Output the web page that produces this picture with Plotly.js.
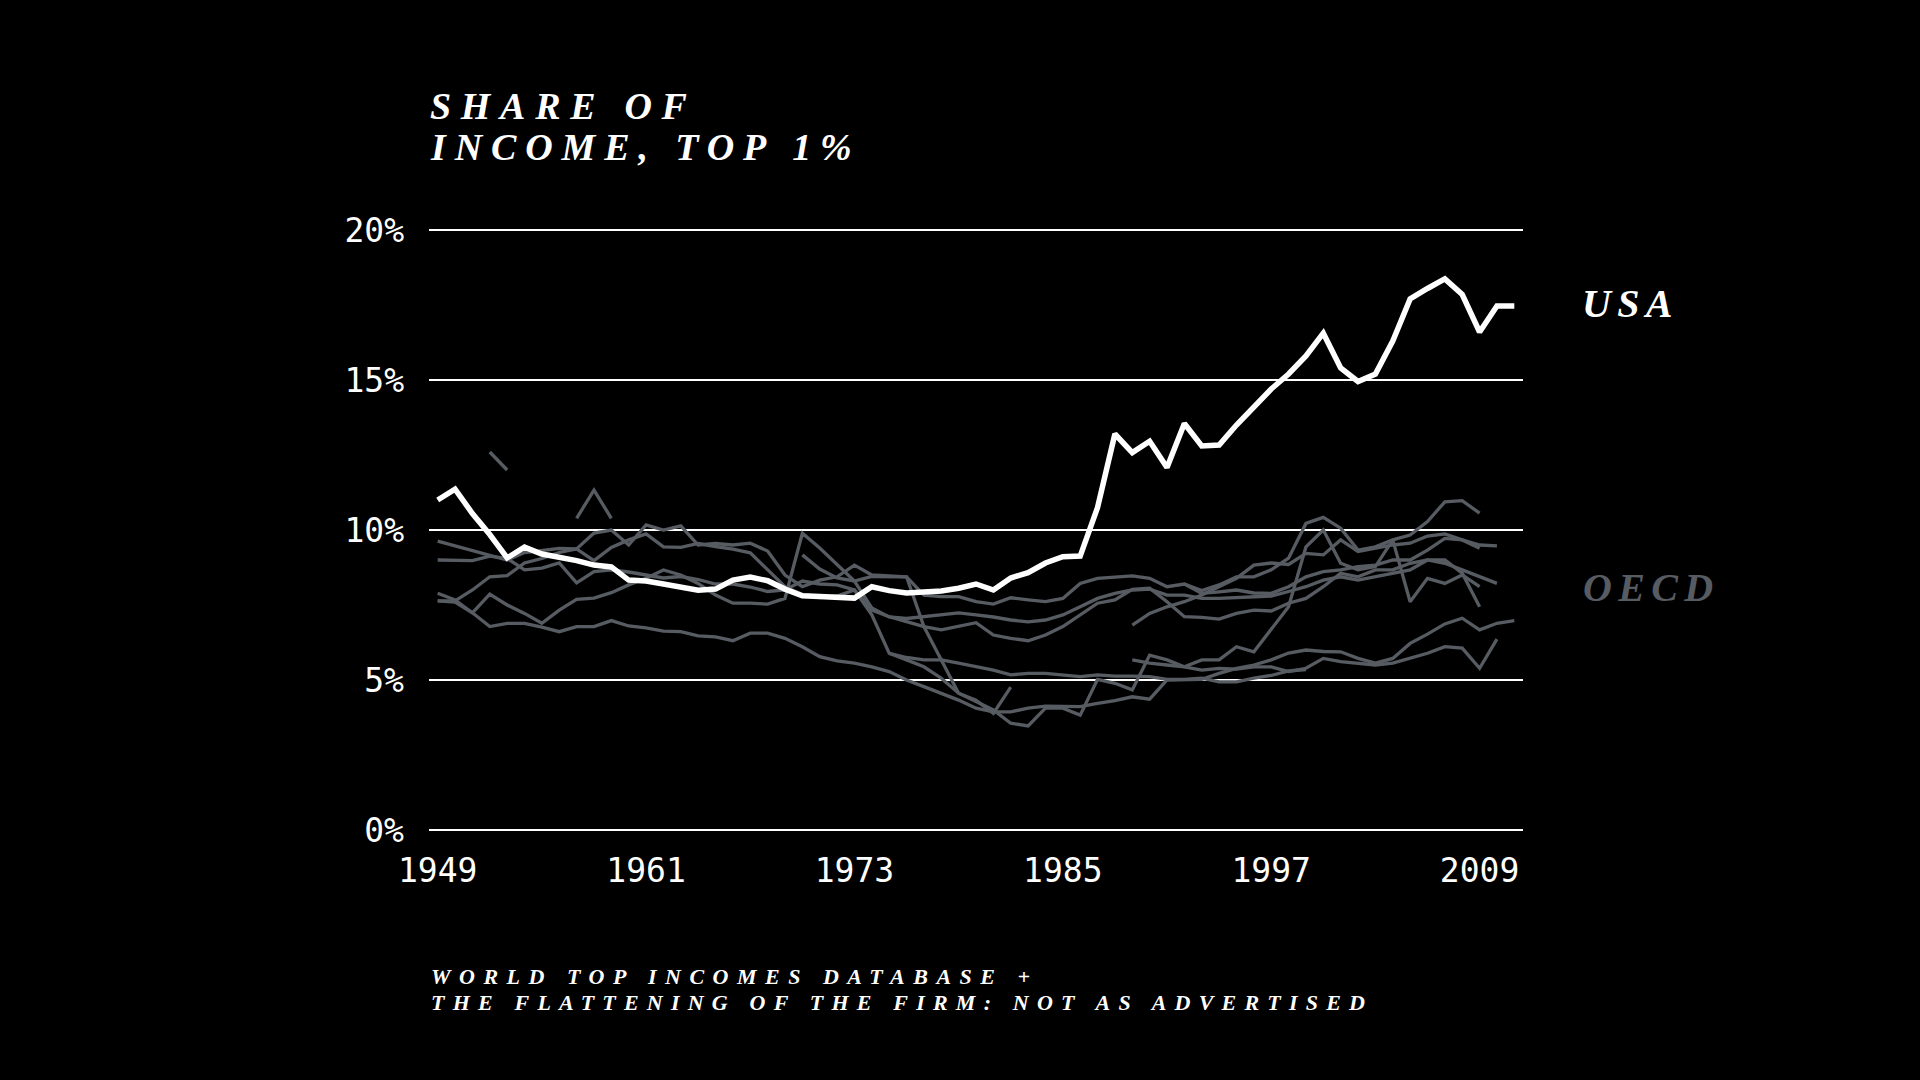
<!DOCTYPE html>
<html>
<head>
<meta charset="utf-8">
<script src="https://cdn.plot.ly/plotly-3.0.1.min.js"></script>
<style>
  html, body { margin: 0; padding: 0; background: #000; }
  #chart { width: 1920px; height: 1080px; }
</style>
</head>
<body>
<div id="chart"></div>
<script>
// ---- data (share of income, top 1%, %) ----
const years = [1949,1950,1951,1952,1953,1954,1955,1956,1957,1958,
               1959,1960,1961,1962,1963,1964,1965,1966,1967,1968,
               1969,1970,1971,1972,1973,1974,1975,1976,1977,1978,
               1979,1980,1981,1982,1983,1984,1985,1986,1987,1988,
               1989,1990,1991,1992,1993,1994,1995,1996,1997,1998,
               1999,2000,2001,2002,2003,2004,2005,2006,2007,2008,
               2009,2010,2011];

const usa = [11.0,11.36,10.55,9.85,9.07,9.43,9.2,9.1,8.98,8.83,
             8.77,8.33,8.3,8.2,8.1,7.99,8.03,8.33,8.43,8.31,
             8.03,7.81,7.78,7.76,7.73,8.11,7.98,7.9,7.92,7.97,
             8.06,8.2,8.0,8.4,8.58,8.9,9.11,9.13,10.75,13.2,
             12.58,12.96,12.08,13.55,12.8,12.83,13.5,14.07,14.7,15.2,
             15.8,16.56,15.4,14.95,15.2,16.3,17.7,18.05,18.37,17.85,
             16.6,17.47,17.47];

const oecd1 = [9.63,9.47,9.3,9.15,9.0,9.25,9.33,9.39,9.37,9.9,
               10.0,9.5,10.17,10.0,10.14,9.5,9.55,9.5,9.56,9.3,
               8.5,8.11,8.33,8.44,8.83,8.5,8.47,8.44,7.83,7.78,
               7.78,7.61,7.53,7.74,7.67,7.61,7.72,8.22,8.39,8.44,
               8.47,8.39,8.11,8.2,7.89,7.94,8.0,7.9,7.89,8.11,
               8.44,8.61,8.67,8.78,8.83,9.0,9.0,9.33,9.72,9.67,
               9.39,null,null];

const oecd2 = [9.0,8.98,8.98,9.13,9.05,8.67,8.73,8.9,8.24,8.61,
               8.67,8.6,8.5,8.4,8.45,8.35,8.2,8.2,8.1,7.95,
               8.0,8.3,8.2,8.17,8.0,7.33,7.11,6.94,6.78,6.67,
               6.78,6.91,6.5,6.39,6.31,6.5,6.78,7.17,7.56,7.67,
               8.02,8.06,7.61,7.11,7.09,7.03,7.22,7.33,7.3,7.56,
               7.72,8.11,8.56,8.44,8.67,8.67,8.89,9.0,8.89,8.67,
               8.44,8.22,null];

const oecd3 = [7.64,7.64,8.0,8.44,8.48,8.9,9.05,9.25,9.37,8.98,
               9.42,9.67,9.87,9.44,9.42,9.55,9.45,9.36,9.24,8.67,
               8.11,7.85,7.75,7.8,8.0,7.17,5.89,5.67,5.44,5.06,
               4.56,4.28,4.0,3.56,3.47,4.06,4.06,3.83,5.02,4.89,
               4.67,5.83,5.67,5.44,5.67,5.67,6.11,5.94,6.67,7.44,
               9.44,10.0,8.89,8.67,8.78,9.67,7.61,8.39,8.22,8.5,
               8.11,null,null];

const oecd4 = [null,null,null,null,null,null,null,null,null,null,
               null,null,null,null,null,null,null,null,null,null,
               null,null,null,null,null,null,null,null,null,null,
               null,null,null,null,null,null,null,null,null,null,
               6.83,7.22,7.44,7.61,7.83,8.11,8.39,8.83,8.9,8.85,
               9.22,9.17,9.67,9.28,9.39,9.5,9.56,9.8,9.87,9.67,
               9.5,9.47,null];

const oecd5 = [7.89,7.67,7.24,7.86,7.5,7.22,6.89,7.33,7.69,7.73,
               7.91,8.17,8.39,8.67,8.5,8.22,7.83,7.56,7.56,7.53,
               7.72,9.89,9.4,8.85,8.3,7.4,7.1,7.05,7.12,7.17,
               7.24,7.17,7.1,7.0,6.94,7.0,7.17,7.44,7.72,7.89,
               8.0,8.03,7.83,7.83,7.72,7.72,7.75,7.78,7.8,7.95,
               8.11,8.33,8.44,8.33,8.44,8.56,8.67,9.0,9.0,8.56,
               7.44,null,null];

const oecd6 = [7.64,7.6,7.24,6.78,6.89,6.89,6.76,6.61,6.78,6.78,
               6.98,6.8,6.74,6.63,6.61,6.47,6.44,6.31,6.56,6.56,
               6.39,6.11,5.78,5.64,5.56,5.44,5.28,5.0,4.78,4.56,
               4.33,4.06,3.94,3.94,4.06,4.13,4.11,4.11,4.22,4.31,
               4.44,4.36,5.0,5.02,5.02,5.22,5.39,5.5,5.67,5.9,
               6.0,5.95,5.94,5.72,5.56,5.72,6.22,6.53,6.87,7.06,
               6.67,6.89,6.98];

const oecd7 = [null,null,null,null,null,null,null,null,null,null,
               null,null,null,null,null,null,null,null,null,null,
               null,9.17,8.7,8.4,8.3,8.45,8.45,8.44,6.78,5.67,
               4.56,4.33,3.89,4.76,null,null,null,null,null,null,
               null,null,null,null,null,null,null,null,null,null,
               null,null,null,null,null,null,null,null,null,null,
               null,null,null];

const oecd8 = [null,null,null,null,null,null,null,null,null,null,
               null,null,null,null,null,null,null,null,null,null,
               null,null,null,null,null,null,null,null,null,null,
               null,null,null,null,null,null,null,null,null,null,
               null,null,null,8.2,7.98,8.17,8.44,8.44,8.67,9.06,
               10.22,10.42,10.06,9.33,9.44,9.67,9.83,10.28,10.94,10.98,
               10.56,null,null];

const oecd9 = [null,null,null,12.6,12.0,null,null,null,null,null,
               null,null,null,null,null,null,null,null,null,null,
               null,null,null,null,null,null,null,null,null,null,
               null,null,null,null,null,null,null,null,null,null,
               null,null,null,null,null,null,null,null,null,null,
               null,null,null,null,null,null,null,null,null,null,
               null,null,null];

const oecd10 = [null,null,null,null,null,null,null,null,10.39,11.33,
                10.39,null,null,null,null,null,null,null,null,null,
                null,null,null,null,null,null,null,null,null,null,
                null,null,null,null,null,null,null,null,null,null,
                null,null,null,null,null,null,null,null,null,null,
                null,null,null,null,null,null,null,null,null,null,
                null,null,null];

const oecd11 = [null,null,null,null,null,null,null,null,null,null,
                null,null,null,null,null,null,null,null,null,null,
                null,null,null,null,null,null,null,null,null,null,
                null,null,null,null,null,null,null,null,null,null,
                5.67,5.56,5.5,5.44,5.33,5.39,5.36,5.44,5.44,5.28,
                5.39,5.72,5.61,5.56,5.5,5.56,5.72,5.89,6.11,6.06,
                5.39,6.36,null];

const oecd12 = [null,null,null,null,null,null,null,null,null,null,
                null,null,null,null,null,null,null,null,null,null,
                null,null,null,null,null,null,5.89,5.75,5.67,5.67,
                5.56,5.44,5.33,5.17,5.22,5.22,5.17,5.11,5.17,5.13,
                5.13,5.11,5.02,5.02,5.06,4.94,4.94,5.06,5.15,5.3,
                5.35,null,null,null,null,null,null,null,null,null,
                null,null,null];

const oecdSeries = [oecd1,oecd2,oecd3,oecd4,oecd5,oecd6,oecd7,oecd8,oecd9,oecd10,oecd11,oecd12];

const xTicks = [1949,1961,1973,1985,1997,2009];
const yTicks = [0,5,10,15,20];
const yTickText = ['0%','5%','10%','15%','20%'];

const titleLines = ['SHARE OF','INCOME, TOP 1%'];
const sourceLines = ['WORLD TOP INCOMES DATABASE +','THE FLATTENING OF THE FIRM: NOT AS ADVERTISED'];

// ---- styling ----
const GRAY = '#575b62';
const serif = {family: 'Liberation Serif, DejaVu Serif, serif', weight: 'bold', style: 'italic'};
const mono = {family: 'DejaVu Sans Mono, Liberation Mono, monospace', size: 33, color: '#ffffff'};

const traces = oecdSeries.map(s => ({
  x: years, y: s, type: 'scatter', mode: 'lines',
  line: {color: GRAY, width: 3.3}, connectgaps: false, hoverinfo: 'skip'
}));
traces.push({
  x: years, y: usa, type: 'scatter', mode: 'lines',
  line: {color: '#ffffff', width: 5.5}, hoverinfo: 'skip'
});

function ann(text, x, y, size, color) {
  return {text: text, xref: 'paper', yref: 'paper', x: x, y: y,
          xanchor: 'left', yanchor: 'middle', align: 'left', showarrow: false,
          font: Object.assign({}, serif, {size: size, color: color})};
}

const layout = {
  width: 1920, height: 1080,
  paper_bgcolor: '#000000', plot_bgcolor: '#000000',
  margin: {l: 429, r: 397, t: 215, b: 235, pad: 0},
  showlegend: false,
  xaxis: {
    range: [1948.5, 2011.5], tickvals: xTicks, ticktext: xTicks.map(String),
    showgrid: false, zeroline: false, showline: false, ticks: '',
    tickfont: mono, ticklabelstandoff: 3
  },
  yaxis: {
    range: [-0.5, 20.5], tickvals: yTicks, ticktext: yTickText,
    showgrid: true, gridcolor: '#ffffff', gridwidth: 1.3,
    zeroline: false, showline: false, ticks: '',
    tickfont: mono, ticklabelstandoff: 24
  },
  annotations: [
    ann(titleLines[0], -0.001, 1.1730, 38, '#ffffff'),
    ann(titleLines[1], -0.001, 1.1079, 38, '#ffffff'),
    ann('USA', 1.052, 0.8603, 40, '#ffffff'),
    ann('OECD', 1.053, 0.4095, 40, GRAY),
    ann(sourceLines[0], 0.0, -0.2087, 22, '#ffffff'),
    ann(sourceLines[1], 0.0, -0.2500, 22, '#ffffff')
  ]
};

const spacing = ['9.7px','8.9px','6.3px','6.3px','8.5px','8.2px'];

Plotly.newPlot('chart', traces, layout, {staticPlot: true, displayModeBar: false}).then(() => {
  const groups = document.querySelectorAll('#chart .annotation');
  groups.forEach((g, i) => {
    const t = g.querySelector('text');
    if (t && spacing[i]) t.style.letterSpacing = spacing[i];
  });
});
</script>
</body>
</html>
